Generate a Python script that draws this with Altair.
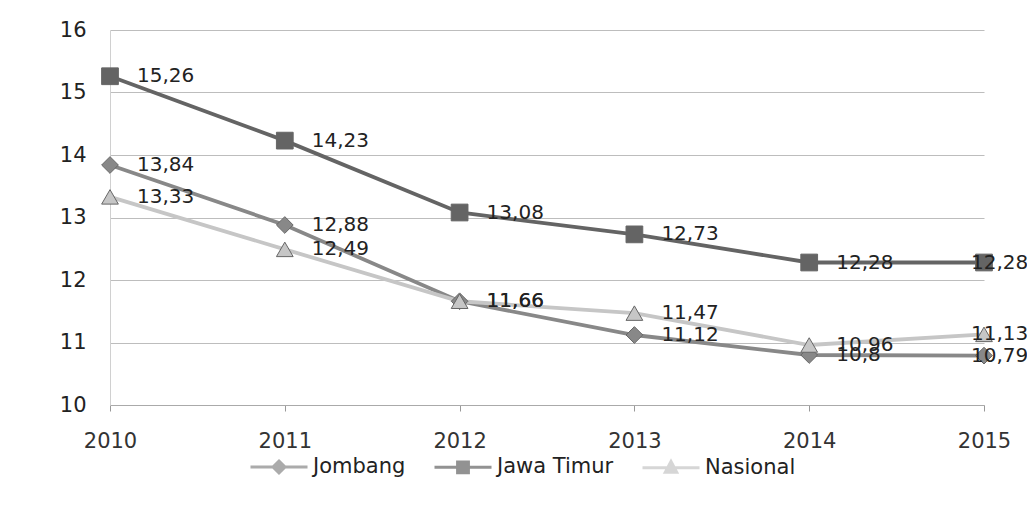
import altair as alt
import pandas as pd

years = [2010, 2011, 2012, 2013, 2014, 2015]
series_names = ["Jombang", "Jawa Timur", "Nasional"]
jombang = [13.84, 12.88, 11.66, 11.12, 10.8, 10.79]
jawa_timur = [15.26, 14.23, 13.08, 12.73, 12.28, 12.28]
nasional = [13.33, 12.49, 11.66, 11.47, 10.96, 11.13]
y_ticks = [10, 11, 12, 13, 14, 15, 16]

colors = ["#888888", "#646464", "#c6c6c6"]
shapes = ["diamond", "square", "triangle-up"]
# legend glyphs: a line with the series marker in the middle (nested outlines so the
# stroked marker reads as solid)
legend_glyphs = [
    "M-1,0H1M0,-0.21L0.21,0L0,0.21L-0.21,0ZM0,-0.12L0.12,0L0,0.12L-0.12,0Z"
    "M0,-0.04L0.04,0L0,0.04L-0.04,0Z",
    "M-1,0H1M-0.19,-0.19H0.19V0.19H-0.19ZM-0.1,-0.1H0.1V0.1H-0.1Z"
    "M-0.02,-0.02H0.02V0.02H-0.02Z",
    "M-1,0H1M0,-0.22L0.2,0.16H-0.2ZM0,-0.1L0.1,0.09H-0.1Z",
]
FONT = "DejaVu Sans"

rows = []
for name, vals in zip(series_names, [jombang, jawa_timur, nasional]):
    for yr, v in zip(years, vals):
        rows.append({"year": yr, "value": v, "series": name,
                     "label": str(v).replace(".", ",")})
df = pd.DataFrame(rows)

base = alt.Chart(df)

x = alt.X("year:Q", scale=alt.Scale(domain=[2010, 2015], nice=False, zero=False),
          axis=alt.Axis(values=years, format="d", title=None, grid=False,
                        labelFontSize=21, labelColor="#333", labelFont=FONT,
                        labelPadding=19, tickSize=6, tickColor="#999",
                        domainColor="#aaa", labelFlush=False))
y = alt.Y("value:Q", scale=alt.Scale(domain=[10, 16], nice=False, zero=False),
          axis=alt.Axis(values=y_ticks, title=None, gridColor="#bdbdbd", gridWidth=1,
                        ticks=False, labelFontSize=21, labelColor="#222", labelFont=FONT,
                        labelPadding=24, domainColor="#d0d0d0"))

SYM_W = 57
leg = alt.Legend(title=None, orient="none", legendX=139, legendY=407,
                 direction="horizontal", symbolSize=SYM_W * SYM_W,
                 symbolStrokeWidth=3, labelFontSize=21, labelFont=FONT,
                 labelColor="#222", labelOffset=4, columnPadding=22, labelLimit=300)

color_scale = alt.Scale(domain=series_names, range=colors)

lines = base.mark_line(strokeWidth=3.8).encode(
    x=x, y=y, color=alt.Color("series:N", scale=color_scale, legend=None), order="year:Q")
points = base.mark_point(filled=True, size=280, opacity=1, stroke="#666",
                         strokeWidth=1).encode(
    x=x, y=y,
    color=alt.Color("series:N", scale=color_scale, legend=None),
    shape=alt.Shape("series:N", scale=alt.Scale(domain=series_names, range=shapes), legend=None))

legend_layer = base.transform_filter("false").mark_point(filled=False, strokeWidth=3).encode(
    x=x, y=y,
    color=alt.Color("series:N", scale=color_scale, legend=leg),
    shape=alt.Shape("series:N", scale=alt.Scale(domain=series_names, range=legend_glyphs),
                    legend=leg))

labels_main = base.transform_filter("datum.year < 2015").mark_text(
    align="left", baseline="middle", dx=27, fontSize=20, font=FONT, color="#222"
).encode(x=x, y=y, text="label:N")
labels_end = base.transform_filter("datum.year == 2015").mark_text(
    align="left", baseline="middle", dx=-13, fontSize=20, font=FONT, color="#222"
).encode(x=x, y=y, text="label:N")

chart = alt.layer(lines, points, legend_layer, labels_main, labels_end).resolve_scale(
    shape="independent", color="independent"
).properties(
    width=874, height=375,
    autosize=alt.AutoSizeParams(type="none"),
    padding={"left": 110, "top": 30, "right": 43, "bottom": 101},
    background="white",
).configure_view(stroke=None)

chart.save("out.html", embed_options={"renderer": "svg", "actions": False})
